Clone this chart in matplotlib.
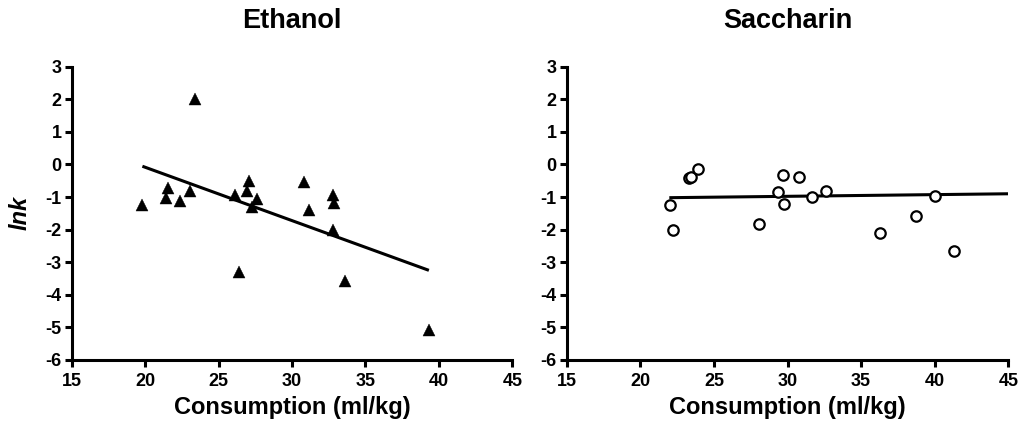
import numpy as np
import matplotlib
matplotlib.use("Agg")
import matplotlib.pyplot as plt

plt.rcParams['font.family'] = ['Liberation Sans', 'DejaVu Sans']
plt.rcParams['axes.unicode_minus'] = False

# ---- data ----
ethanol_x = [19.81, 23.39, 21.58, 21.40, 22.37, 23.07, 26.10, 27.07, 26.91,
             27.59, 27.25, 26.41, 30.83, 31.15, 32.77, 32.86, 32.77, 33.63, 39.32]
ethanol_y = [-1.24, 2.02, -0.71, -1.03, -1.11, -0.80, -0.95, -0.51, -0.80,
             -1.07, -1.31, -3.31, -0.55, -1.41, -0.95, -1.19, -2.00, -3.58, -5.09]

saccharin_x = [22.02, 22.20, 23.31, 23.45, 23.92, 28.04, 29.67, 29.33, 29.76,
               30.78, 31.66, 32.64, 36.28, 38.71, 40.02, 41.33]
saccharin_y = [-1.23, -2.00, -0.41, -0.40, -0.13, -1.84, -0.32, -0.86, -1.21,
               -0.39, -1.01, -0.83, -2.09, -1.57, -0.96, -2.66]

# regression line of the saccharin panel as drawn in the reference
saccharin_fit_x = [21.97, 45.0]
saccharin_fit_y = [-1.02, -0.90]

titles = ["Ethanol", "Saccharin"]
x_label = "Consumption (ml/kg)"
y_label = "lnk"
x_ticks = [15, 20, 25, 30, 35, 40, 45]
y_ticks = [3, 2, 1, 0, -1, -2, -3, -4, -5, -6]

fig = plt.figure(figsize=(10.25, 4.38), dpi=100)
ax1 = fig.add_axes([0.0700, 0.1781, 0.4298, 0.6697])
ax2 = fig.add_axes([0.5529, 0.1781, 0.4308, 0.6697])

# Ethanol: filled triangles + least squares line
ax1.plot(ethanol_x, ethanol_y, linestyle='none', marker='^', ms=8.5,
         color='black', mec='black', mew=0.3, zorder=3)
slope, intercept = np.polyfit(ethanol_x, ethanol_y, 1)
fx = np.array([min(ethanol_x), max(ethanol_x)])
ax1.plot(fx, slope * fx + intercept, color='black', lw=2.2, zorder=2,
         solid_capstyle='butt')

# Saccharin: open circles + line
ax2.plot(saccharin_x, saccharin_y, linestyle='none', marker='o', ms=7.5,
         mfc='white', mec='black', mew=1.6, zorder=3)
ax2.plot(saccharin_fit_x, saccharin_fit_y, color='black', lw=2.2, zorder=2,
         solid_capstyle='butt', clip_on=True)

for ax, title in zip((ax1, ax2), titles):
    ax.set_xlim(15, 45)
    ax.set_ylim(-6, 3)
    ax.set_xticks(x_ticks)
    ax.set_yticks(y_ticks)
    ax.set_xticklabels([str(t) for t in x_ticks])
    ax.set_yticklabels([str(t) for t in y_ticks])
    for s in ('top', 'right'):
        ax.spines[s].set_visible(False)
    for s in ('left', 'bottom'):
        ax.spines[s].set_linewidth(2.2)
    ax.tick_params(axis='both', direction='out', length=5, width=2.2,
                   labelsize=13)
    ax.tick_params(axis='y', pad=2.4)
    ax.tick_params(axis='x', pad=4.5)
    for lab in ax.get_xticklabels() + ax.get_yticklabels():
        lab.set_fontweight('bold')
    ax.set_title(title, fontsize=19.5, fontweight='bold', pad=28)
    ax.set_xlabel(x_label, fontsize=17, fontweight='bold', labelpad=4)
    ax.set_facecolor('white')

ax1.set_ylabel(y_label, fontsize=17, fontweight='bold', style='italic',
               labelpad=10)

fig.savefig("out.png", dpi=100, facecolor='white')
